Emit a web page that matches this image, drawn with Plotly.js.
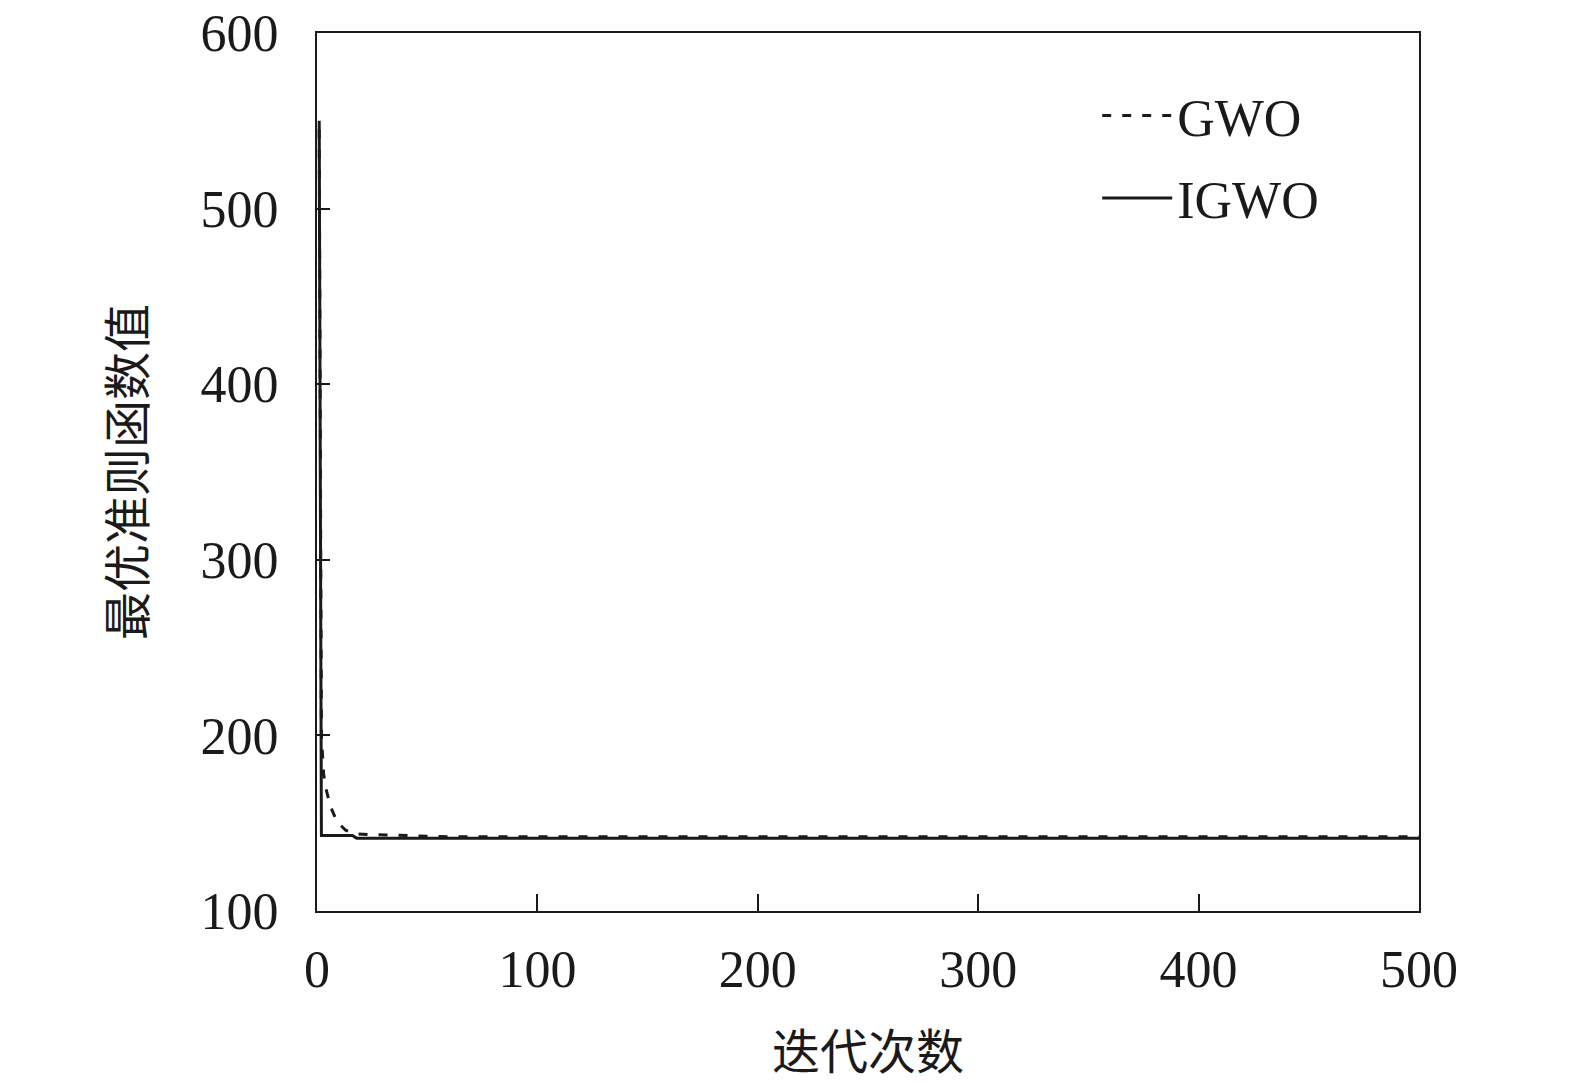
<!DOCTYPE html>
<html>
<head>
<meta charset="utf-8">
<script src="https://cdn.plot.ly/plotly-3.0.1.min.js"></script>
<style>
  html, body { margin: 0; padding: 0; background: #fff; }
  #chart { width: 1575px; height: 1083px; }
</style>
</head>
<body>
<div id="chart"></div>
<script>
// iteration numbers and best criterion value
const gwoIter = [1, 2, 3, 4, 6, 9, 13, 17, 25, 40, 60, 128, 500];
const gwoBest = [545, 200, 178, 170, 160, 151, 146, 144, 143.5, 143, 142.3, 142.3, 142.3];

const igwoIter = [1, 2, 16, 18, 500];
const igwoBest = [550, 143, 143, 141.5, 141.5];

const xTicks = [0, 100, 200, 300, 400, 500];
const yTicks = [100, 200, 300, 400, 500, 600];

const serif = 'Liberation Serif, Times New Roman, Noto Sans CJK SC, serif';
const cjk = 'Noto Sans CJK SC, sans-serif';

const traces = [
  {
    x: gwoIter,
    y: gwoBest,
    name: 'GWO',
    legendgroup: 'g1',
    mode: 'lines',
    line: { color: '#1a1a1a', width: 3, dash: '9px,11px' },
  },
  {
    x: igwoIter,
    y: igwoBest,
    name: 'IGWO',
    legendgroup: 'g2',
    mode: 'lines',
    line: { color: '#1a1a1a', width: 3 },
  },
];

const layout = {
  width: 1575,
  height: 1083,
  paper_bgcolor: '#fff',
  plot_bgcolor: '#fff',
  margin: { l: 317, r: 156, t: 33, b: 172 },
  font: { family: serif, size: 52, color: '#1a1a1a' },
  showlegend: true,
  legend: {
    x: 0.708,
    y: 0.952,
    xanchor: 'left',
    yanchor: 'top',
    bgcolor: 'rgba(0,0,0,0)',
    font: { family: serif, size: 52, color: '#1a1a1a' },
    itemwidth: 70,
    traceorder: 'grouped',
    tracegroupgap: 12,
  },
  xaxis: {
    range: [0, 500],
    tickvals: xTicks,
    ticktext: xTicks.map(String),
    ticks: 'inside',
    ticklen: 17,
    tickwidth: 2,
    tickcolor: '#1a1a1a',
    ticklabelstandoff: 12,
    showline: true,
    linecolor: '#1a1a1a',
    linewidth: 2,
    mirror: true,
    showgrid: false,
    zeroline: false,
    title: {
      text: '迭代次数',
      font: { family: cjk, size: 48, color: '#1a1a1a' },
      standoff: 40,
    },
  },
  yaxis: {
    range: [100, 600],
    tickvals: yTicks,
    ticktext: yTicks.map(String),
    ticks: 'inside',
    ticklen: 13,
    tickwidth: 2,
    tickcolor: '#1a1a1a',
    ticklabelstandoff: 26,
    showline: true,
    linecolor: '#1a1a1a',
    linewidth: 2,
    mirror: true,
    showgrid: false,
    zeroline: false,
    title: {
      text: '最优准则函数值',
      font: { family: cjk, size: 48, color: '#1a1a1a' },
      standoff: 40,
    },
  },
};

Plotly.newPlot('chart', traces, layout, { staticPlot: true });
</script>
</body>
</html>
